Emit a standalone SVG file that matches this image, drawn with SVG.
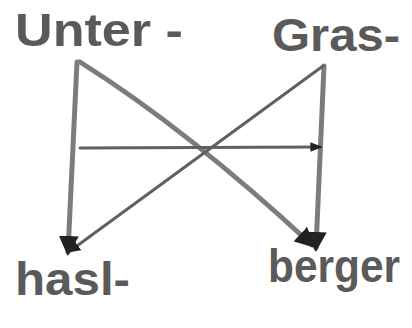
<svg xmlns="http://www.w3.org/2000/svg" width="412" height="328" viewBox="0 0 412 328">
<style>
.lbl{font-family:"Liberation Sans","DejaVu Sans",sans-serif;font-weight:bold;fill:#5a5a5a;font-size:46px}
.e{fill:none;stroke:#7c7c7c;stroke-width:5;stroke-linecap:round;stroke-linejoin:round}
.t{stroke-width:3;stroke:#606060}
</style>
<defs>
<marker id="ah" viewBox="0 0 10 10" refX="8" refY="5" markerWidth="4" markerHeight="4" orient="auto" markerUnits="strokeWidth">
<path d="M0,0 L10,5 L0,10 z" fill="#222"/>
</marker>
<marker id="ahs" viewBox="0 0 10 10" refX="8" refY="5" markerWidth="4" markerHeight="4" orient="auto" markerUnits="strokeWidth">
<path d="M0,1 L10,5 L0,9 z" fill="#222"/>
</marker>
</defs>
<rect width="412" height="328" fill="#fff"/>
<g id="connectors">
<path class="e" d="M77,62 L68,252" marker-end="url(#ah)"/>
<path class="e" d="M80,62 Q188,130 312,245" marker-end="url(#ah)"/>
<path class="e" d="M324,66 L316,248" marker-end="url(#ah)"/>
<path class="e t" d="M323,66 L70,251" marker-end="url(#ah)"/>
<path class="e t" d="M80,148 L320,147" marker-end="url(#ahs)"/>
</g>
<g id="unter"><text class="lbl" x="15" y="46" textLength="168" lengthAdjust="spacingAndGlyphs">Unter -</text></g>
<g id="gras"><text class="lbl" x="272" y="51" textLength="128" lengthAdjust="spacingAndGlyphs">Gras-</text></g>
<g id="hasl"><text class="lbl" x="15" y="295" textLength="115" lengthAdjust="spacingAndGlyphs">hasl-</text></g>
<g id="berger"><text class="lbl" x="268" y="282" textLength="132" lengthAdjust="spacingAndGlyphs">berger</text></g>
</svg>
